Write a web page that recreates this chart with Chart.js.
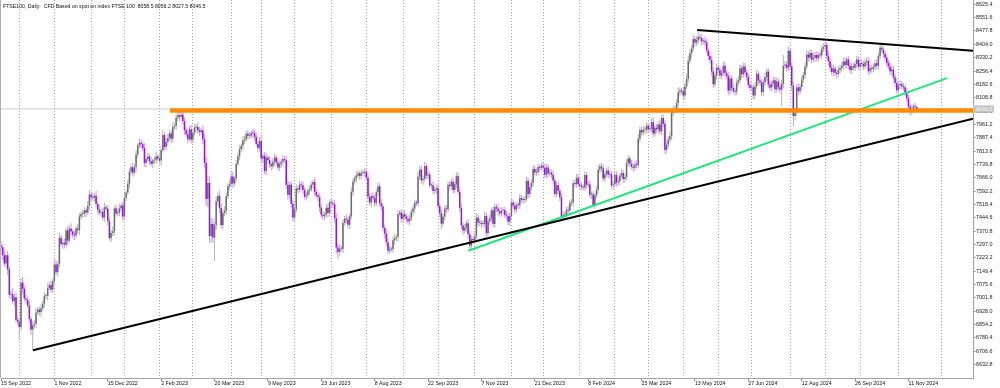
<!DOCTYPE html>
<html>
<head>
<meta charset="utf-8">
<script src="https://cdn.jsdelivr.net/npm/chart.js@4/dist/chart.umd.min.js"></script>
<style>
html,body{margin:0;padding:0;background:#fff;overflow:hidden;}
canvas{display:block;}
</style>
</head>
<body>
<canvas id="c" width="1000" height="388" style="width:1000px;height:388px"></canvas>
<script>
// ---------------- DATA ----------------
const titleText = 'FTSE100, Daily:  CFD Based on spot on index FTSE 100  8058.5 8059.2 8027.5 8046.5';

// daily closes, one per trading day starting 15 Sep 2022
const closes = [
7282,7237,7192,7237,7159,7019,7021,6984,7005,6881,
6870,6840,7086,7052,6998,6991,6959,6885,6826,6850,
6858,6920,6937,6924,6944,6970,7013,7013,7056,7073,
7047,7094,7186,7144,7188,7334,7299,7306,7296,7375,
7318,7385,7369,7351,7346,7385,7376,7452,7466,7466,
7486,7474,7512,7573,7558,7556,7567,7521,7489,7472,
7476,7446,7503,7495,7426,7332,7361,7370,7497,7469,
7473,7497,7512,7452,7554,7585,7633,7699,7724,7694,
7725,7794,7844,7860,7851,7831,7747,7770,7784,7757,
7744,7761,7765,7784,7772,7761,7820,7902,7836,7864,
7885,7911,7882,7947,7953,7998,8012,8004,8014,7979,
7930,7907,7879,7935,7876,7914,7944,7947,7929,7919,
7929,7879,7748,7548,7637,7344,7410,7335,7403,7536,
7566,7499,7405,7471,7484,7564,7620,7632,7673,7634,
7663,7742,7785,7825,7843,7872,7879,7909,7899,7899,
7914,7912,7892,7853,7831,7870,7773,7788,7703,7778,
7764,7741,7730,7754,7778,7751,7723,7742,7756,7770,
7763,7627,7570,7627,7522,7446,7490,7607,7600,7628,
7624,7599,7562,7570,7594,7602,7628,7643,7588,7569,
7559,7502,7461,7453,7462,7500,7471,7531,7527,7519,
7442,7280,7256,7273,7274,7416,7440,7434,7406,7453,
7588,7646,7663,7679,7691,7676,7693,7694,7699,7666,
7561,7529,7564,7554,7527,7587,7619,7524,7507,7389,
7357,7310,7262,7270,7271,7320,7333,7338,7465,7473,
7439,7464,7452,7437,7426,7442,7478,7496,7527,7525,
7673,7711,7652,7660,7731,7678,7683,7624,7625,7593,
7601,7608,7510,7470,7412,7451,7494,7492,7628,7620,
7644,7599,7630,7675,7588,7499,7402,7374,7389,7414,
7354,7291,7327,7322,7342,7446,7417,7417,7410,7411,
7455,7360,7426,7440,7486,7410,7504,7496,7481,7469,
7483,7488,7460,7455,7423,7454,7529,7513,7490,7515,
7514,7554,7545,7543,7548,7649,7576,7614,7638,7715,
7695,7697,7725,7722,7733,7721,7682,7723,7689,7694,
7683,7651,7576,7625,7594,7558,7446,7459,7461,7487,
7485,7527,7529,7635,7632,7666,7630,7622,7615,7612,
7681,7628,7629,7572,7573,7512,7568,7598,7711,7728,
7719,7662,7685,7706,7684,7683,7624,7630,7682,7640,
7646,7679,7692,7659,7669,7747,7772,7743,7727,7722,
7738,7737,7882,7930,7917,7931,7932,7953,7935,7937,
7975,7911,7943,7934,7961,7923,7996,7965,7820,7848,
7877,7896,8024,8044,8041,8079,8139,8147,8144,8121,
8172,8213,8313,8354,8381,8433,8414,8428,8445,8439,
8420,8424,8416,8370,8339,8317,8254,8183,8231,8275,
8262,8232,8247,8285,8245,8228,8148,8215,8163,8147,
8142,8192,8205,8272,8238,8282,8248,8225,8180,8164,
8166,8121,8171,8241,8204,8193,8140,8193,8223,8253,
8182,8165,8187,8205,8155,8198,8167,8153,8186,8285,
8292,8274,8368,8283,8175,8008,8026,8166,8145,8168,
8210,8235,8281,8347,8330,8356,8320,8330,8345,8327,
8345,8343,8379,8390,8400,8340,8310,8275,8250,8270,
8245,8240,8262,8273,8285,8309,8290,8320,8285,8262,
8282,8275,8295,8320,8280,8300,8295,8282,8305,8312,
8255,8272,8268,8280,8300,8285,8340,8385,8375,8352,
8330,8300,8282,8255,8265,8220,8190,8150,8177,8184,
8172,8166,8140,8105,8060,8035,8048,8062,8058.5,8046.5
];
const firstOpen = 7290;

// upper shadow length above the body (points)
const hiWick = [
24,18,30,12,26,15,22,35,19,28,14,20,25,31,16,22,18,27,13,24,20,29,11,17,23,
16,21,12,28,19,25,14,33,22,18,27,15,20,26,13,24,17,29,12,21,16,25,19,14,23,
20,13,26,27,18,22,15,29,12,24,17,21,26,14,19,23,16,28,11,22,18,25,13,20,27,
15,22,19,14,28,17,23,12,25,20,16,27,13,21,18,24,11,19,26,15,22,17,29,14,20,
23,16,21,28,13,19,27,22,25,15,20,14,26,18,23,12,21,17,24,19,15,28,30,36,42,
38,34,29,22,27,18,31,25,16,24,20,15,23,19,26,14,22,17,21,13,25,18,16,22,19,
14,24,18,21,15,23,27,16,20,25,13,22,17,19,24,14,21,16,18,23,15,26,20,17,22,
25,18,24,15,21,17,23,13,19,16,22,18,14,25,20,15,23,17,21,14,19,24,16,20,18,
22,28,19,24,17,21,15,23,18,14,26,20,16,22,17,13,19,15,21,18,24,20,16,23,19,
15,22,17,25,20,16,24,18,21,14,23,19,16,22,15,20,17,24,13,19,22,16,21,18,14,
26,19,23,17,25,15,21,18,14,22,16,20,24,17,21,15,19,23,18,22,16,25,17,20,23,
19,24,17,21,15,23,18,20,16,22,25,17,19,14,21,23,16,20,18,15,24,19,17,21,16,
20,15,18,22,16,19,23,17,21,14,18,22,16,19,15,24,17,20,18,23,16,21,19,15,18,
17,22,19,15,20,18,23,16,21,19,15,24,18,20,17,22,16,19,21,15,23,18,16,20,17,
21,16,19,23,17,20,15,22,25,18,16,21,19,15,22,17,20,18,16,21,19,15,23,17,20,
22,18,16,21,19,17,23,26,19,16,21,18,20,17,22,19,24,16,20,18,23,17,21,19,16,
20,24,18,22,17,21,26,19,16,22,20,24,28,21,18,25,19,22,36,18,21,17,23,19,16,
22,18,24,19,23,17,21,18,25,20,16,22,19,17,23,18,20,24,21,17,22,19,16,21,18,
20,17,23,19,16,22,18,21,24,17,19,22,16,20,18,23,17,21,24,60,20,18,25,19,22,
24,21,19,23,17,20,18,22,25,19,21,17,23,18,20,16,22,19,21,20,17,22,18,21,19,
17,20,22,18,21,19,23,16,20,18,22,19,17,21,18,20,23,17,19,22,18,21,17,20,19,
22,18,20,23,19,17,21,18,22,16,20,19,23,17,21,18,20,16,22,19,17,21,15,18,0.7
];
// lower shadow length below the body (points)
const loWick = [
20,26,15,22,31,18,24,14,29,17,23,64,19,27,16,25,13,22,28,116,18,24,15,21,27,
14,23,18,26,12,21,17,28,15,24,19,13,25,20,16,27,14,22,18,24,12,20,26,15,21,
17,25,13,22,19,16,24,20,27,14,21,18,23,15,26,13,22,17,25,19,14,21,16,28,20,
18,13,24,17,22,15,26,19,14,23,17,21,25,16,20,13,24,18,22,15,19,27,14,21,17,
22,16,25,19,14,21,18,24,15,20,26,17,23,13,22,18,16,25,19,21,14,27,32,38,45,
40,35,30,129,26,22,28,19,25,17,23,14,21,18,24,16,20,13,22,17,25,19,15,21,18,
16,22,19,14,24,18,21,26,17,23,15,20,24,16,22,18,14,21,19,25,17,23,28,20,24,
20,23,17,21,15,24,19,16,22,18,25,14,20,23,17,21,26,15,19,22,16,24,18,21,17,
25,34,41,22,18,24,16,21,19,23,15,20,17,24,14,22,18,16,21,19,25,17,23,15,20,
18,22,16,24,19,26,21,17,15,16,20,23,17,25,14,22,19,16,21,18,24,15,20,23,17,
15,21,18,24,16,22,19,14,23,17,20,25,18,21,28,16,22,19,17,23,15,20,18,24,16,
22,19,25,17,21,24,26,20,18,23,16,21,19,24,17,22,20,15,23,18,16,21,19,25,17,
19,22,16,21,18,24,15,20,23,17,19,22,16,21,18,14,23,19,17,22,16,20,18,21,15,
21,17,20,23,16,19,22,18,15,24,20,10,17,22,19,16,21,18,23,17,20,15,22,19,16,
18,22,17,20,24,8,19,16,21,18,23,17,20,15,22,19,17,21,16,24,18,20,16,22,19,
17,21,19,16,23,18,20,15,22,17,19,24,18,21,16,20,23,17,19,22,16,21,18,24,20,
19,16,22,18,21,17,23,20,16,22,19,17,21,18,24,16,20,19,22,17,21,18,23,16,20,
18,24,21,17,22,19,16,23,18,20,17,25,19,22,16,21,18,20,17,23,19,16,22,18,21,
17,23,19,16,21,18,24,20,17,22,19,16,23,18,21,17,20,19,93,22,18,21,17,23,26,
58,24,19,22,17,21,18,20,16,23,19,21,17,22,18,20,16,23,19,21,17,22,25,19,21,
18,22,17,20,19,23,16,21,18,20,22,17,19,21,16,23,18,20,17,22,19,16,21,18,20,
17,21,19,16,22,18,20,17,23,19,16,21,18,22,20,17,19,23,18,21,26,19,22,20,19
];

// x-axis date labels and their bar indices
const xTickIdx = [0,32,64,96,128,160,192,224,256,288,320,352,384,416,448,480,512,544];
const xTickLabels = ['15 Sep 2022','1 Nov 2022','15 Dec 2022','2 Feb 2023','20 Mar 2023','9 May 2023',
  '23 Jun 2023','8 Aug 2023','22 Sep 2023','7 Nov 2023','21 Dec 2023','8 Feb 2024','25 Mar 2024',
  '13 May 2024','27 Jun 2024','12 Aug 2024','26 Sep 2024','11 Nov 2024'];
// bar index of the first trading day of each month (vertical grid)
const monthGridIdx = [11,32,54,74,95,115,138,156,176,198,219,241,262,284,306,325,347,368,388,409,430,450,473,494,515,538,564];
// price axis labels
const yTicks = [8625.4,8551.6,8477.8,8404.0,8330.2,8256.4,8182.6,8108.8,8035.0,7961.2,7887.4,7813.6,7739.8,
  7666.0,7592.2,7518.4,7444.6,7370.8,7297.0,7223.2,7149.4,7075.6,7001.8,6928.0,6854.2,6780.4,6706.6,6632.8];

// drawn objects: [barIndex, price] end points
const supportLine = [[19.2, 6712], [582.7, 7993]];
const resistanceLine = [[417.3, 8483], [582.7, 8368]];
const greenLine = [[280.2, 7262], [567.1, 8217]];
const orangeLevel = [[101.3, 8037.6], [582.7, 8037.6]];

const xMin = 0, xMax = 582.7;
const yMin = 6558.5, yMax = 8649.2;

// ---------------- BUILD ----------------
const opens = closes.map((c, i) => i === 0 ? firstOpen : closes[i - 1]);
const isUp = closes.map((c, i) => c >= opens[i]);
const wickData = closes.map((c, i) => ({x: i, y: [Math.min(opens[i], c) - loWick[i], Math.max(opens[i], c) + hiWick[i]]}));
const bodyData = closes.map((c, i) => ({x: i, y: [opens[i], c]}));
const lastClose = closes[closes.length - 1];

const BULL_BODY = '#6c6c6c', BULL_WICK = '#b9b9b9';
const BEAR_BODY = '#9412e6', BEAR_WICK = '#d59ff0';

const pts = arr => arr.map(p => ({x: p[0], y: p[1]}));

Chart.defaults.font.family = '"Liberation Sans", Arial, sans-serif';

const decor = {
  id: 'decor',
  beforeDraw(chart) {
    const c = chart.ctx;
    c.save();
    c.fillStyle = '#ffffff';
    c.fillRect(0, 0, chart.width, chart.height);
    c.restore();
  },
  afterDraw(chart) {
    const c = chart.ctx, a = chart.chartArea, ys = chart.scales.y;
    c.save();
    c.strokeStyle = '#b0b0b0';
    c.lineWidth = 1;
    c.beginPath(); c.moveTo(0.5, 0); c.lineTo(0.5, a.bottom); c.stroke();
    c.font = '5.2px "Liberation Sans", Arial, sans-serif';
    c.fillStyle = '#111';
    c.textBaseline = 'alphabetic';
    c.textAlign = 'left';
    c.fillText(titleText, 3, 7.6);
    const py = ys.getPixelForValue(lastClose);
    c.fillStyle = '#c4c4c4';
    c.fillRect(a.right, py - 3.6, 21, 7.2);
    c.fillStyle = '#f6f6f6';
    c.font = '5.4px "Liberation Sans", Arial, sans-serif';
    c.textBaseline = 'middle';
    c.fillText(lastClose.toFixed(1), a.right + 3, py + 0.3);
    c.restore();
  }
};

new Chart(document.getElementById('c'), {
  type: 'bar',
  data: {
    datasets: [
      {type: 'line', label: 'orange', data: pts(orangeLevel), borderColor: '#ff8c00', borderWidth: 4.5,
        pointRadius: 0, borderCapStyle: 'butt', order: 1, xAxisID: 'x', yAxisID: 'y'},
      {type: 'line', label: 'support', data: pts(supportLine), borderColor: '#000000', borderWidth: 2,
        pointRadius: 0, order: 2, xAxisID: 'x', yAxisID: 'y'},
      {type: 'line', label: 'resistance', data: pts(resistanceLine), borderColor: '#000000', borderWidth: 2,
        pointRadius: 0, order: 2, xAxisID: 'x', yAxisID: 'y'},
      {type: 'line', label: 'green', data: pts(greenLine), borderColor: '#1fe87c', borderWidth: 2,
        pointRadius: 0, order: 3, xAxisID: 'x', yAxisID: 'y'},
      {type: 'bar', label: 'bodies', data: bodyData,
        backgroundColor: isUp.map(u => u ? BULL_BODY : BEAR_BODY),
        barThickness: 1.5, grouped: false, borderWidth: 0, inflateAmount: 0, minBarLength: 1,
        order: 5, xAxisID: 'x', yAxisID: 'y'},
      {type: 'bar', label: 'wicks', data: wickData,
        backgroundColor: isUp.map(u => u ? BULL_WICK : BEAR_WICK),
        barThickness: 1.1, grouped: false, borderWidth: 0, inflateAmount: 0,
        order: 6, xAxisID: 'x', yAxisID: 'y'},
      {type: 'line', label: 'price', data: [{x: xMin, y: lastClose}, {x: xMax, y: lastClose}],
        borderColor: '#cfcfcf', borderWidth: 1, pointRadius: 0, order: 9, xAxisID: 'x', yAxisID: 'y'}
    ]
  },
  options: {
    responsive: false,
    animation: false,
    devicePixelRatio: 1,
    layout: {padding: {left: 1, top: 0, right: 0, bottom: 0}},
    plugins: {legend: {display: false}, tooltip: {enabled: false}, title: {display: false}},
    events: [],
    scales: {
      x: {
        type: 'linear', position: 'bottom', min: xMin, max: xMax, offset: false,
        grid: {display: true, offset: false, drawOnChartArea: false, drawTicks: true, tickLength: 3, tickColor: '#8a8a8a', tickWidth: 1},
        border: {display: true, color: '#a4a4a4', width: 1},
        ticks: {align: 'start', autoSkip: false, maxRotation: 0, minRotation: 0, padding: -1,
          color: '#111', font: {size: 5.3},
          callback: (v, i) => xTickLabels[i]},
        afterBuildTicks: s => { s.ticks = xTickIdx.map(v => ({value: v})); },
        afterFit: s => { s.height = 10; s.paddingLeft = 0; s.paddingRight = 0; }
      },
      xg: {
        type: 'linear', position: 'bottom', min: xMin, max: xMax, offset: false,
        grid: {display: true, offset: false, drawOnChartArea: true, drawTicks: false, color: '#a2a2a2', lineWidth: 1},
        border: {display: false, dash: [1, 2]},
        ticks: {display: false},
        afterBuildTicks: s => { s.ticks = monthGridIdx.map(v => ({value: v})); },
        afterFit: s => { s.height = 0; s.paddingLeft = 0; s.paddingRight = 0; }
      },
      y: {
        type: 'linear', position: 'right', min: yMin, max: yMax,
        grid: {display: true, drawOnChartArea: false, drawTicks: true, tickLength: 2.5, tickColor: '#8a8a8a'},
        border: {display: true, color: '#a4a4a4', width: 1},
        ticks: {autoSkip: false, padding: 0.5, color: '#222', font: {size: 5.4},
          callback: v => Number(v).toFixed(1)},
        afterBuildTicks: s => { s.ticks = yTicks.map(v => ({value: v})); },
        afterFit: s => { s.width = 27; s.paddingTop = 0; s.paddingBottom = 0; }
      }
    }
  },
  plugins: [decor]
});
</script>
</body>
</html>
